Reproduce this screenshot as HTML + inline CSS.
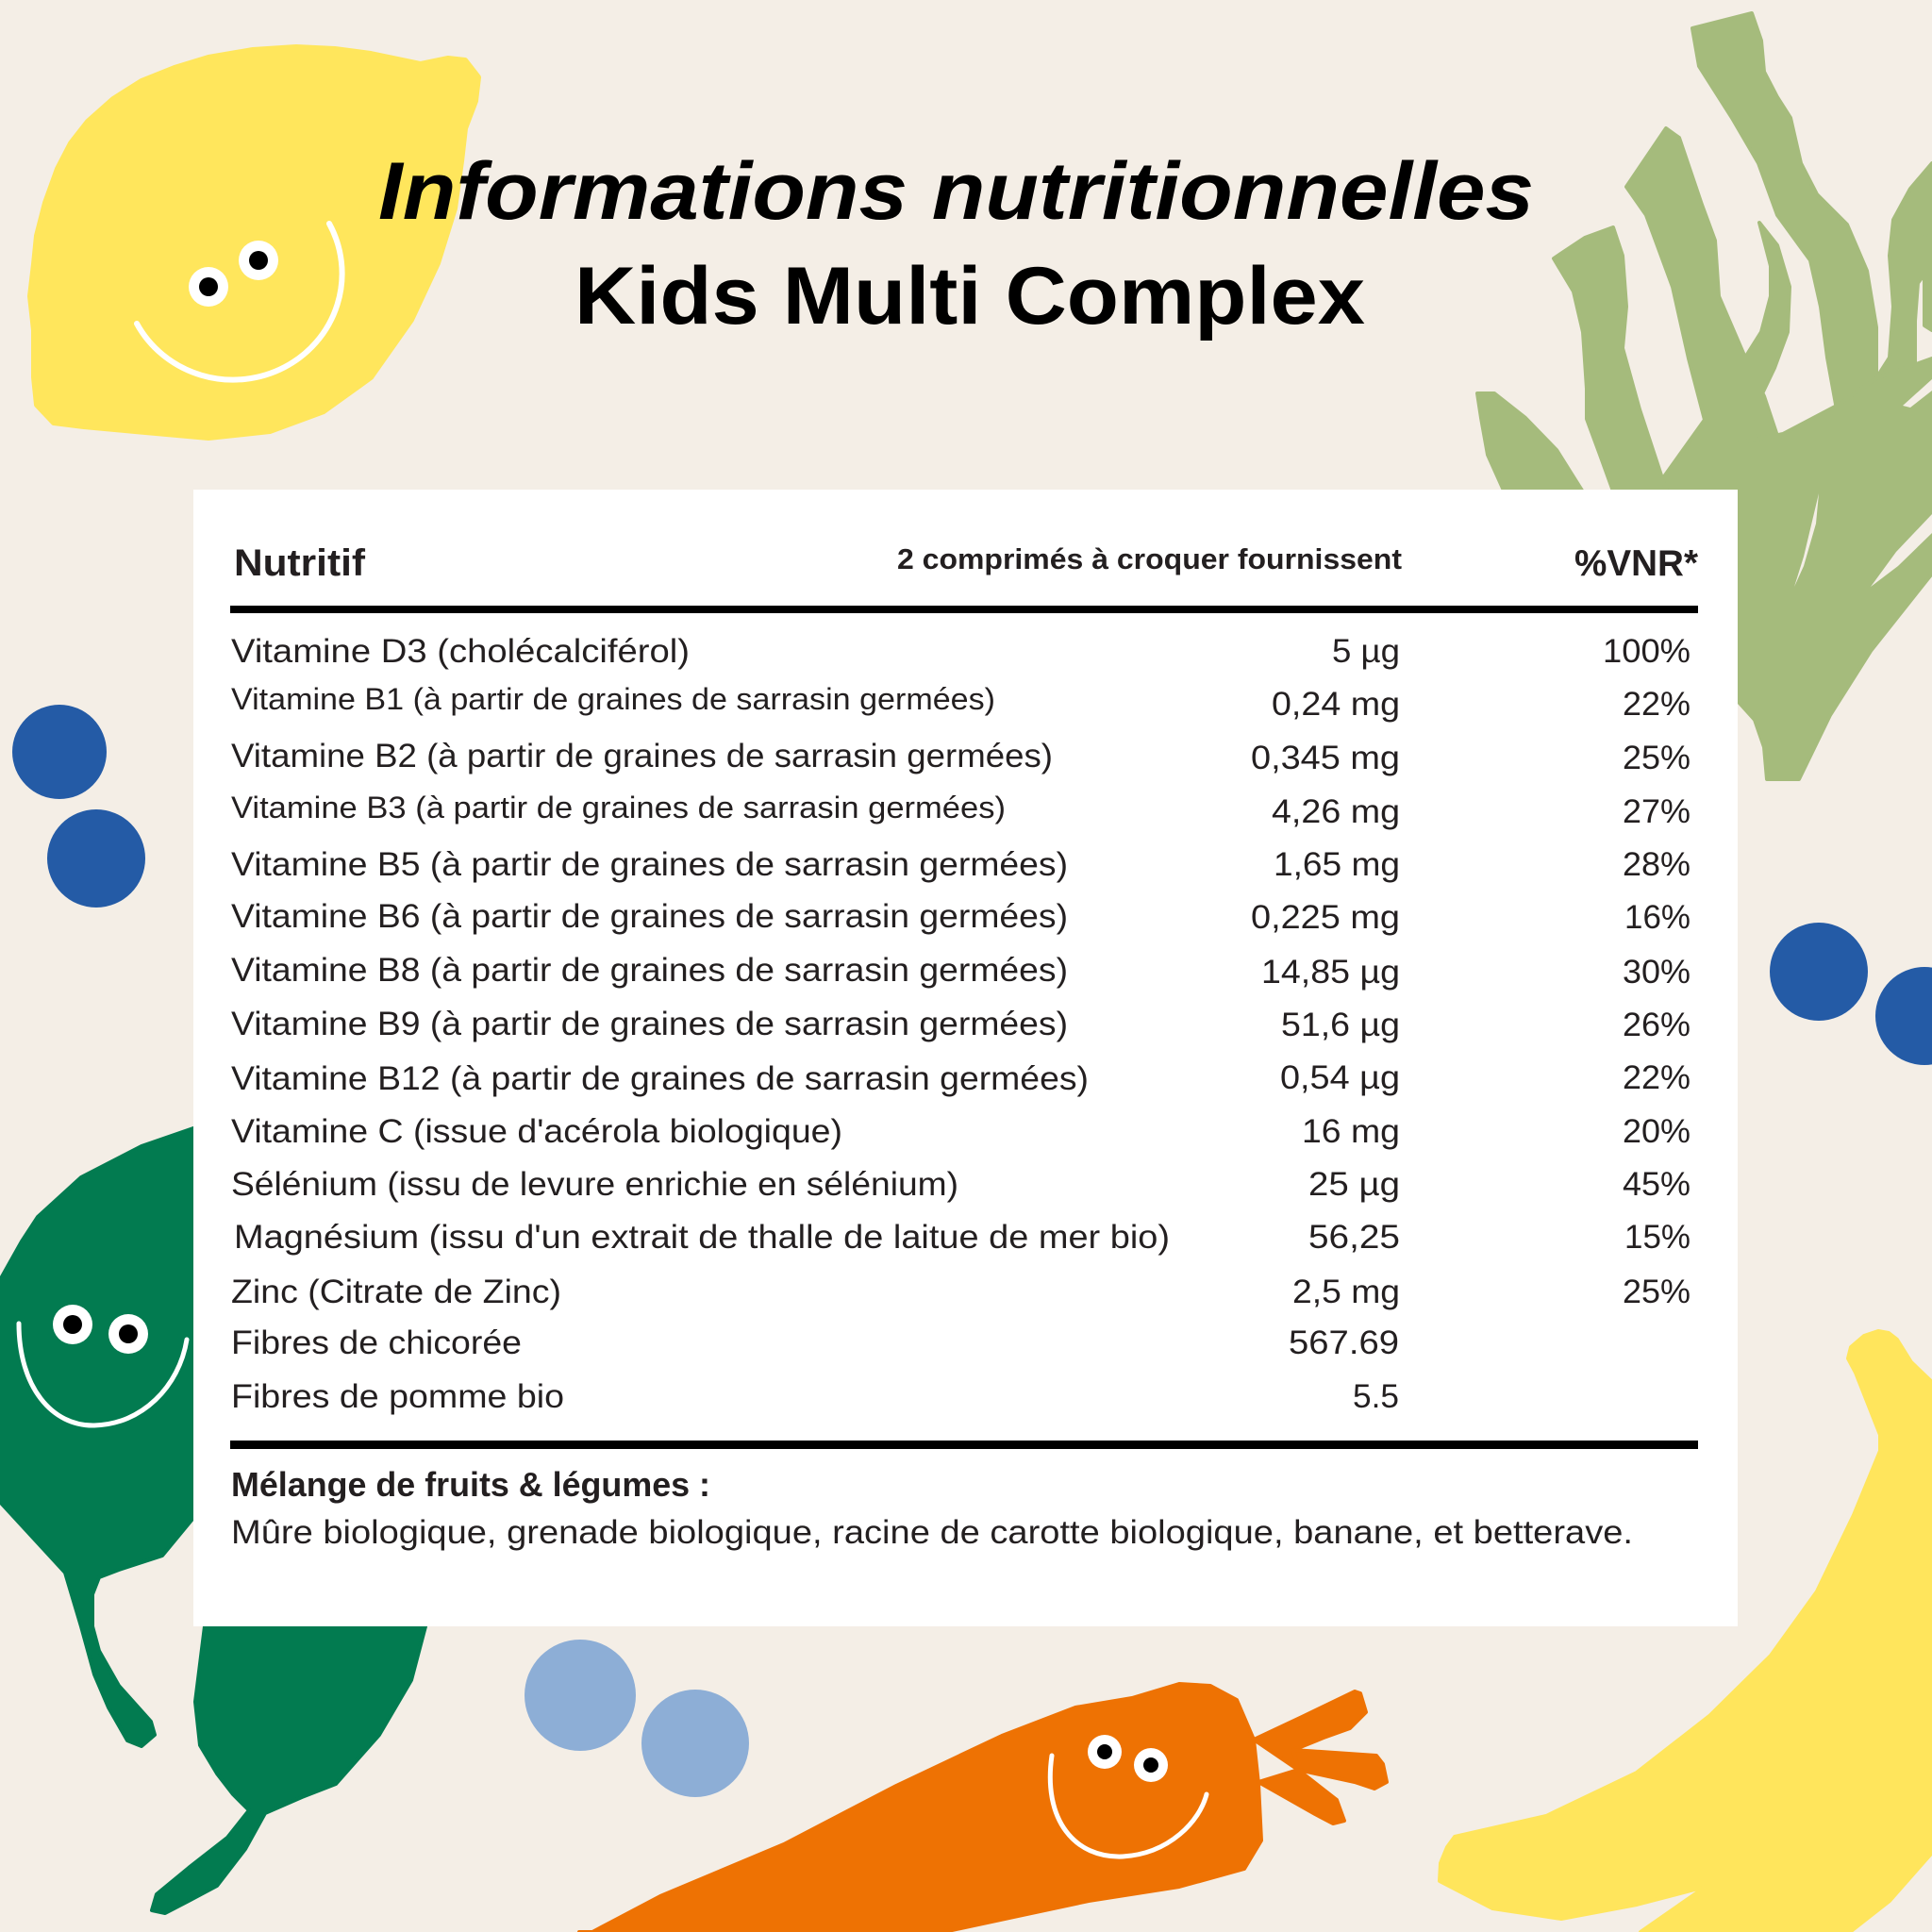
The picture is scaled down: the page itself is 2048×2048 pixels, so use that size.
<!DOCTYPE html>
<html>
<head>
<meta charset="utf-8">
<style>
html,body{margin:0;padding:0;background:#f4eee6;}
svg{display:block;}
text{font-family:"Liberation Sans",sans-serif;fill:#231f20;}
.t{fill:#000;font-weight:bold;}
.r{font-size:35px;}
.s{font-size:32px;}
.v{font-size:35px;text-anchor:end;}
</style>
</head>
<body>
<svg width="2048" height="2048" viewBox="0 0 2048 2048" xmlns="http://www.w3.org/2000/svg">
<rect width="2048" height="2048" fill="#f4eee6"/>

<!-- Lemon -->
<path fill="#ffe65c" stroke="#ffe65c" stroke-width="6" stroke-linejoin="round" d="M57,448 L39,429 L36,400 L36,350 L32,314 L36,280 L39,250 L48,215 L61,179 L75,152 L93,129 L120,105 L150,86 L185,72 L221,61 L268,53 L314,50 L355,52 L393,57 L446,68 L475,62 L493,64 L507,82 L504,107 L493,136 L489,171 L482,221 L464,279 L436,339 L393,400 L343,436 L286,457 L221,464 L143,457 L89,452 Z"/>
<circle cx="221" cy="304" r="21" fill="#fff"/><circle cx="221" cy="304" r="10" fill="#000"/>
<circle cx="274" cy="276" r="21" fill="#fff"/><circle cx="274" cy="276" r="10" fill="#000"/>
<path d="M145,343 A115,112 0 0 0 349,237" fill="none" stroke="#fff" stroke-width="6" stroke-linecap="round"/>

<!-- Seaweed -->
<g fill="#a5bb7c" stroke="#a5bb7c" stroke-width="4" stroke-linejoin="round">
<path d="M1566,417 L1584,417 L1617,443 L1650,477 L1677,520 L1700,540 L1603,540 L1577,482 L1570,443 Z"/>
<path d="M1647,274 L1680,252 L1710,241 L1720,271 L1724,325 L1720,369 L1738,434 L1762,507 L1775,540 L1717,540 L1696,482 L1682,444 L1682,412 L1678,352 L1668,309 Z"/>
<path d="M1724,198 L1766,136 L1780,146 L1804,217 L1818,255 L1822,314 L1850,379 L1870,420 L1890,480 L1880,540 L1775,540 L1762,508 L1807,445 L1790,380 L1773,304 L1745,228 Z"/>
<path d="M1865,236 L1884,260 L1897,304 L1895,352 L1881,390 L1860,434 L1864,461 L1884,540 L1850,540 L1850,379 L1867,352 L1877,314 L1877,282 L1870,255 Z"/>
<path d="M1794,30 L1857,14 L1867,43 L1870,76 L1884,103 L1898,125 L1909,173 L1926,206 L1958,238 L1979,287 L1989,347 L1989,401 L1985,470 L1947,480 L1947,434 L1937,379 L1930,325 L1919,276 L1884,228 L1864,173 L1836,125 L1801,70 Z"/>
<path d="M2048,173 L2025,200 L2007,233 L2003,271 L2007,325 L2003,379 L1989,401 L2030,400 L2030,340 L2033,300 L2048,280 Z"/>
<path d="M2040,250 L2048,240 L2048,350 L2040,345 Z"/>
<path d="M1842,470 L1890,460 L1947,430 L1989,401 L2020,390 L2048,380 L2048,608 L1983,690 L1940,758 L1907,826 L1873,826 L1870,792 L1860,763 L1842,743 Z"/>
</g>
<g fill="#f4eee6">
<path d="M1902,622 L1912,590 L1928,523 L1925,555 L1912,600 Z"/>
<path d="M1983,622 L2010,585 L2048,545 L2048,565 L2012,600 Z"/>
<path d="M2017,430 L2048,402 L2048,414 L2025,432 Z"/>
</g>

<!-- Dark blueberries -->
<g fill="#245ba6">
<circle cx="63" cy="797" r="50"/>
<circle cx="102" cy="910" r="52"/>
<circle cx="1928" cy="1030" r="52"/>
<circle cx="2040" cy="1077" r="52"/>
</g>

<!-- Spinach leaves -->
<g fill="#027b50" stroke="#027b50" stroke-width="4" stroke-linejoin="round">
<path d="M240,1190 L205,1196 L150,1215 L86,1248 L40,1290 L23,1316 L0,1357 L0,1592 L69,1667 L86,1724 L100,1775 L115,1810 L135,1845 L150,1851 L164,1839 L160,1825 L126,1787 L105,1750 L98,1724 L98,1690 L105,1672 L126,1664 L172,1649 L205,1609 L240,1600 Z"/>
<path d="M220,1700 L207,1804 L212,1850 L230,1880 L247,1902 L264,1919 L241,1948 L200,1980 L166,2008 L161,2025 L175,2028 L200,2015 L230,1999 L260,1960 L281,1922 L320,1905 L356,1891 L402,1839 L436,1781 L451,1724 L455,1700 Z"/>
</g>
<circle cx="77" cy="1404" r="21" fill="#fff"/><circle cx="77" cy="1404" r="10" fill="#000"/>
<circle cx="136" cy="1414" r="21" fill="#fff"/><circle cx="136" cy="1414" r="10" fill="#000"/>
<path d="M20,1403 C20,1470 55,1512 100,1511 C150,1510 190,1470 198,1420" fill="none" stroke="#fff" stroke-width="5" stroke-linecap="round"/>

<!-- Light blueberries -->
<g fill="#8daed6">
<circle cx="615" cy="1797" r="59"/>
<circle cx="737" cy="1848" r="57"/>
</g>

<!-- Carrot -->
<g fill="#ee7203" stroke="#ee7203" stroke-width="4" stroke-linejoin="round">
<path d="M614,2048 L628,2048 L700,2010 L831,1955 L950,1893 L1062,1840 L1140,1810 L1200,1800 L1250,1785 L1283,1787 L1311,1802 L1329,1844 L1334,1891 L1337,1951 L1319,1981 L1250,2000 L1154,2015 L1000,2048 Z"/>
<path d="M1329,1844 L1380,1820 L1436,1793 L1442,1795 L1448,1815 L1431,1832 L1403,1842 L1371,1855 L1376,1876 Z"/>
<path d="M1371,1855 L1459,1861 L1466,1870 L1470,1889 L1457,1896 L1436,1889 L1376,1876 Z"/>
<path d="M1376,1876 L1417,1908 L1425,1930 L1413,1933 L1394,1923 L1334,1889 Z"/>
</g>
<circle cx="1171" cy="1857" r="18" fill="#fff"/><circle cx="1171" cy="1857" r="8" fill="#000"/>
<circle cx="1220" cy="1871" r="18" fill="#fff"/><circle cx="1220" cy="1871" r="8" fill="#000"/>
<path d="M1115,1861 C1105,1930 1140,1970 1190,1968 C1240,1965 1272,1930 1279,1902" fill="none" stroke="#fff" stroke-width="5" stroke-linecap="round"/>

<!-- Banana -->
<path fill="#ffe55c" stroke="#ffe55c" stroke-width="4" stroke-linejoin="round" d="M1959,1440 L1962,1428 L1976,1416 L1991,1411 L2002,1413 L2011,1420 L2026,1444 L2048,1465 L2048,1964 L2003,2015 L1961,2048 L1739,2048 L1808,2000 L1735,2019 L1655,2034 L1582,2023 L1526,1994 L1527,1975 L1534,1958 L1542,1947 L1639,1925 L1735,1879 L1812,1819 L1877,1755 L1926,1687 L1965,1606 L1993,1538 L1993,1521 L1967,1455 Z"/>

<!-- Title -->
<text class="t" x="401" y="232" font-size="86" font-style="italic" textLength="1225" lengthAdjust="spacingAndGlyphs">Informations nutritionnelles</text>
<text class="t" x="609" y="343" font-size="86" textLength="838" lengthAdjust="spacingAndGlyphs">Kids Multi Complex</text>

<!-- Table -->
<rect x="205" y="519" width="1637" height="1205" fill="#fff"/>

<text x="248" y="610" font-size="40" font-weight="bold" textLength="139" lengthAdjust="spacingAndGlyphs">Nutritif</text>
<text x="1486" y="603" font-size="31" font-weight="bold" text-anchor="end" textLength="535" lengthAdjust="spacingAndGlyphs">2 comprimés à croquer fournissent</text>
<text x="1800" y="610" font-size="39" font-weight="bold" text-anchor="end" textLength="131" lengthAdjust="spacingAndGlyphs">%VNR*</text>

<rect x="244" y="642" width="1556" height="8" fill="#000"/>

<!-- Labels -->
<text class="r" x="245" y="702" textLength="486" lengthAdjust="spacingAndGlyphs">Vitamine D3 (cholécalciférol)</text>
<text class="s" x="245" y="752" textLength="810" lengthAdjust="spacingAndGlyphs">Vitamine B1 (à partir de graines de sarrasin germées)</text>
<text class="r" x="245" y="813" textLength="871" lengthAdjust="spacingAndGlyphs">Vitamine B2 (à partir de graines de sarrasin germées)</text>
<text class="s" x="245" y="867" textLength="821" lengthAdjust="spacingAndGlyphs">Vitamine B3 (à partir de graines de sarrasin germées)</text>
<text class="r" x="245" y="928" textLength="887" lengthAdjust="spacingAndGlyphs">Vitamine B5 (à partir de graines de sarrasin germées)</text>
<text class="r" x="245" y="983" textLength="887" lengthAdjust="spacingAndGlyphs">Vitamine B6 (à partir de graines de sarrasin germées)</text>
<text class="r" x="245" y="1040" textLength="887" lengthAdjust="spacingAndGlyphs">Vitamine B8 (à partir de graines de sarrasin germées)</text>
<text class="r" x="245" y="1097" textLength="887" lengthAdjust="spacingAndGlyphs">Vitamine B9 (à partir de graines de sarrasin germées)</text>
<text class="r" x="245" y="1155" textLength="909" lengthAdjust="spacingAndGlyphs">Vitamine B12 (à partir de graines de sarrasin germées)</text>
<text class="r" x="245" y="1211" textLength="648" lengthAdjust="spacingAndGlyphs">Vitamine C (issue d'acérola biologique)</text>
<text class="r" x="245" y="1267" textLength="771" lengthAdjust="spacingAndGlyphs">Sélénium (issu de levure enrichie en sélénium)</text>
<text class="r" x="248" y="1323" textLength="992" lengthAdjust="spacingAndGlyphs">Magnésium (issu d'un extrait de thalle de laitue de mer bio)</text>
<text class="r" x="245" y="1381" textLength="350" lengthAdjust="spacingAndGlyphs">Zinc (Citrate de Zinc)</text>
<text class="r" x="245" y="1435" textLength="308" lengthAdjust="spacingAndGlyphs">Fibres de chicorée</text>
<text class="r" x="245" y="1492" textLength="353" lengthAdjust="spacingAndGlyphs">Fibres de pomme bio</text>

<!-- Values -->
<text class="v" x="1484" y="702" textLength="72" lengthAdjust="spacingAndGlyphs">5 µg</text>
<text class="v" x="1484" y="758" textLength="136" lengthAdjust="spacingAndGlyphs">0,24 mg</text>
<text class="v" x="1484" y="815" textLength="158" lengthAdjust="spacingAndGlyphs">0,345 mg</text>
<text class="v" x="1484" y="872" textLength="136" lengthAdjust="spacingAndGlyphs">4,26 mg</text>
<text class="v" x="1484" y="928" textLength="134" lengthAdjust="spacingAndGlyphs">1,65 mg</text>
<text class="v" x="1484" y="984" textLength="158" lengthAdjust="spacingAndGlyphs">0,225 mg</text>
<text class="v" x="1484" y="1042" textLength="147" lengthAdjust="spacingAndGlyphs">14,85 µg</text>
<text class="v" x="1484" y="1098" textLength="126" lengthAdjust="spacingAndGlyphs">51,6 µg</text>
<text class="v" x="1484" y="1154" textLength="127" lengthAdjust="spacingAndGlyphs">0,54 µg</text>
<text class="v" x="1484" y="1211" textLength="104" lengthAdjust="spacingAndGlyphs">16 mg</text>
<text class="v" x="1484" y="1267" textLength="97" lengthAdjust="spacingAndGlyphs">25 µg</text>
<text class="v" x="1484" y="1323" textLength="97" lengthAdjust="spacingAndGlyphs">56,25</text>
<text class="v" x="1484" y="1381" textLength="114" lengthAdjust="spacingAndGlyphs">2,5 mg</text>
<text class="v" x="1483" y="1435" textLength="117" lengthAdjust="spacingAndGlyphs">567.69</text>
<text class="v" x="1483" y="1492" textLength="49" lengthAdjust="spacingAndGlyphs">5.5</text>

<!-- VNR -->
<text class="v" x="1792" y="702" textLength="93" lengthAdjust="spacingAndGlyphs">100%</text>
<text class="v" x="1792" y="758" textLength="72" lengthAdjust="spacingAndGlyphs">22%</text>
<text class="v" x="1792" y="815" textLength="72" lengthAdjust="spacingAndGlyphs">25%</text>
<text class="v" x="1792" y="872" textLength="72" lengthAdjust="spacingAndGlyphs">27%</text>
<text class="v" x="1792" y="928" textLength="72" lengthAdjust="spacingAndGlyphs">28%</text>
<text class="v" x="1792" y="984" textLength="70" lengthAdjust="spacingAndGlyphs">16%</text>
<text class="v" x="1792" y="1042" textLength="72" lengthAdjust="spacingAndGlyphs">30%</text>
<text class="v" x="1792" y="1098" textLength="72" lengthAdjust="spacingAndGlyphs">26%</text>
<text class="v" x="1792" y="1154" textLength="72" lengthAdjust="spacingAndGlyphs">22%</text>
<text class="v" x="1792" y="1211" textLength="72" lengthAdjust="spacingAndGlyphs">20%</text>
<text class="v" x="1792" y="1267" textLength="72" lengthAdjust="spacingAndGlyphs">45%</text>
<text class="v" x="1792" y="1323" textLength="70" lengthAdjust="spacingAndGlyphs">15%</text>
<text class="v" x="1792" y="1381" textLength="72" lengthAdjust="spacingAndGlyphs">25%</text>

<rect x="244" y="1527" width="1556" height="9" fill="#000"/>

<text x="245" y="1586" font-size="36" font-weight="bold" textLength="508" lengthAdjust="spacingAndGlyphs">Mélange de fruits &amp; légumes :</text>
<text class="r" x="245" y="1636" textLength="1486" lengthAdjust="spacingAndGlyphs">Mûre biologique, grenade biologique, racine de carotte biologique, banane, et betterave.</text>
</svg>
</body>
</html>
